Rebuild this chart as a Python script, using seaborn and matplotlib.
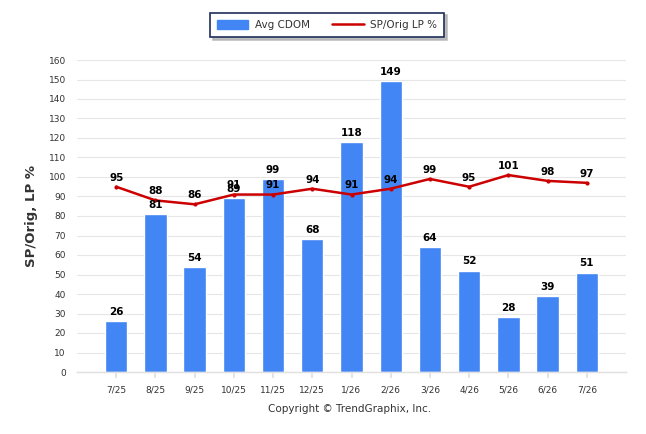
import numpy as np
import pandas as pd
import matplotlib
matplotlib.use("Agg")
import matplotlib.pyplot as plt
import seaborn as sns
from matplotlib.patches import Patch
from matplotlib.lines import Line2D

months = ["7/25", "8/25", "9/25", "10/25", "11/25", "12/25", "1/26",
          "2/26", "3/26", "4/26", "5/26", "6/26", "7/26"]
avg_cdom = [26, 81, 54, 89, 99, 68, 118, 149, 64, 52, 28, 39, 51]
sp_orig_lp = [95, 88, 86, 91, 91, 94, 91, 94, 99, 95, 101, 98, 97]
y_ticks = list(range(0, 161, 10))

BAR_C = "#4285f4"
LINE_C = "#cc0000"
TXT_C = "#333333"

sns.set_theme(style="white")
plt.rcParams['font.family'] = ['DejaVu Sans']

fig = plt.figure(figsize=(6.46, 4.34), dpi=100)
ax = fig.add_axes([77/646, 1-372/434, (626-77)/646, (372-60)/434])

df = pd.DataFrame({"month": months, "cdom": avg_cdom, "sp": sp_orig_lp})
df["pos"] = np.arange(len(months))

sns.barplot(data=df, x="month", y="cdom", color=BAR_C, saturation=1,
            width=0.57, ax=ax, zorder=2)
sns.lineplot(data=df, x="pos", y="sp", color=LINE_C, linewidth=1.8,
             marker="o", markersize=3, markeredgewidth=0, ax=ax, zorder=3)

for i, v in enumerate(avg_cdom):
    ax.annotate(str(v), (i, v), xytext=(0, 3), textcoords="offset points",
                ha="center", va="bottom", fontsize=7.5, fontweight="bold",
                color="black", zorder=5)
for i, v in enumerate(sp_orig_lp):
    ax.annotate(str(v), (i, v), xytext=(0, 3), textcoords="offset points",
                ha="center", va="bottom", fontsize=7.5, fontweight="bold",
                color="black", zorder=5)

ax.set_ylim(0, 160)
ax.set_xlim(-1, len(months))
ax.set_yticks(y_ticks)
ax.set_yticklabels([str(t) for t in y_ticks], fontsize=6.5, color=TXT_C)
ax.set_xticks(range(len(months)))
ax.set_xticklabels(months, fontsize=6.5, color=TXT_C)
ax.yaxis.grid(True, color="#e6e6e6", linewidth=0.8, zorder=0)
ax.set_axisbelow(True)
for s in ["left", "right", "top"]:
    ax.spines[s].set_visible(False)
ax.spines["bottom"].set_color("#e0e0e0")
ax.spines["bottom"].set_linewidth(1)
ax.tick_params(axis="x", length=4, color="#e0e0e0", pad=6, bottom=True)
ax.tick_params(axis="y", length=0, pad=8)
ax.set_xlabel("")
ax.set_ylabel("SP/Orig, LP %", fontsize=9.5, fontweight="bold", color=TXT_C,
              labelpad=8)

handles = [Patch(facecolor=BAR_C, edgecolor=BAR_C),
           Line2D([0], [0], color=LINE_C, linewidth=1.8)]
leg = fig.legend(handles, ["Avg CDOM", "SP/Orig LP %"], loc="center",
                 bbox_to_anchor=(327/646, 1-25/434), ncol=2, fontsize=7.5,
                 frameon=True, fancybox=False,
                 shadow={"color": "#b0b0b0", "alpha": 0.8},
                 handlelength=3.0, handleheight=1.0, columnspacing=2.2,
                 borderpad=0.7, handletextpad=0.6)
leg.get_frame().set_edgecolor("#1f2f5a")
leg.get_frame().set_linewidth(1.2)
for t in leg.get_texts():
    t.set_color(TXT_C)

fig.text(350/646, 1-409/434, "Copyright \u00a9 TrendGraphix, Inc.",
         ha="center", va="center", fontsize=7.5, color=TXT_C)

fig.savefig("out.png", dpi=100)
